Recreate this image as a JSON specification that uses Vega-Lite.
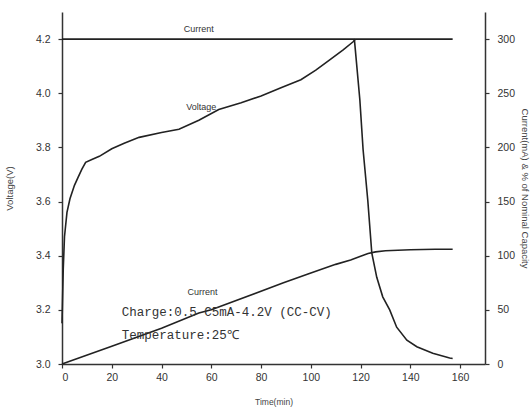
{
  "$schema": "https://vega.github.io/schema/vega-lite/v6.json",
  "autosize": "none",
  "width": 423,
  "height": 352,
  "padding": {"left": 62, "top": 12, "right": 45, "bottom": 44},
  "background": "white",
  "config": {
    "view": {"stroke": null},
    "axis": {"grid": false, "domainColor": "#333", "domainWidth": 1.5, "tickColor": "#333", "tickWidth": 1.2, "tickSize": 4, "labelFont": "Liberation Sans", "labelFontSize": 10.5, "labelColor": "#333", "titleFont": "Liberation Sans", "titleFontSize": 9.5, "titleFontWeight": "normal", "titleColor": "#444"}
  },
  "datasets": {
    "voltage": [
      {"t": 0, "v": 3.15}, {"t": 0.5, "v": 3.35}, {"t": 1, "v": 3.47}, {"t": 2, "v": 3.56}, {"t": 3.2, "v": 3.61},
      {"t": 5, "v": 3.66}, {"t": 6.5, "v": 3.69}, {"t": 8, "v": 3.72}, {"t": 9.5, "v": 3.745}, {"t": 12, "v": 3.755},
      {"t": 15, "v": 3.767}, {"t": 20, "v": 3.795}, {"t": 25, "v": 3.815}, {"t": 31, "v": 3.837}, {"t": 40, "v": 3.855},
      {"t": 47, "v": 3.867}, {"t": 55, "v": 3.9}, {"t": 63, "v": 3.94}, {"t": 72, "v": 3.965}, {"t": 80, "v": 3.99},
      {"t": 88, "v": 4.02}, {"t": 96, "v": 4.05}, {"t": 102, "v": 4.085}, {"t": 108, "v": 4.126}, {"t": 113, "v": 4.16},
      {"t": 117, "v": 4.19}, {"t": 118, "v": 4.2}, {"t": 130, "v": 4.2}, {"t": 157, "v": 4.2}
    ],
    "current": [
      {"s": "current", "t": 0, "c": 300}, {"s": "current", "t": 117.5, "c": 300}, {"s": "current", "t": 119.7, "c": 244},
      {"s": "current", "t": 121, "c": 198}, {"s": "current", "t": 122.9, "c": 151}, {"s": "current", "t": 124.5, "c": 102.5},
      {"s": "current", "t": 126.5, "c": 80}, {"s": "current", "t": 128.9, "c": 62}, {"s": "current", "t": 131.7, "c": 50},
      {"s": "current", "t": 134.5, "c": 34}, {"s": "current", "t": 138.6, "c": 22}, {"s": "current", "t": 142.6, "c": 16},
      {"s": "current", "t": 149, "c": 10}, {"s": "current", "t": 155.8, "c": 5.5}, {"s": "current", "t": 157, "c": 5},
      {"s": "capacity", "t": 0, "c": 0}, {"s": "capacity", "t": 20, "c": 16.5}, {"s": "capacity", "t": 40, "c": 33},
      {"s": "capacity", "t": 55, "c": 47}, {"s": "capacity", "t": 60, "c": 50}, {"s": "capacity", "t": 89, "c": 75},
      {"s": "capacity", "t": 100, "c": 84}, {"s": "capacity", "t": 110, "c": 92}, {"s": "capacity", "t": 116, "c": 96},
      {"s": "capacity", "t": 120, "c": 99.5}, {"s": "capacity", "t": 123, "c": 102}, {"s": "capacity", "t": 126, "c": 103.5},
      {"s": "capacity", "t": 130, "c": 104.5}, {"s": "capacity", "t": 140, "c": 105.5}, {"s": "capacity", "t": 150, "c": 106},
      {"s": "capacity", "t": 157, "c": 106}
    ],
    "vlabels": [
      {"t": 56, "v": 3.95, "label": "Voltage"}
    ],
    "clabels": [
      {"t": 55, "c": 309, "label": "Current"},
      {"t": 56.5, "c": 66.5, "label": "Current"}
    ],
    "notes": [
      {"t": 24, "c": 48, "label": "Charge:0.5 C5mA-4.2V (CC-CV)"},
      {"t": 24, "c": 27, "label": "Temperature:25℃"}
    ]
  },
  "layer": [
    {
      "layer": [
        {
          "data": {"name": "voltage"},
          "mark": {"type": "line", "color": "#222", "strokeWidth": 1.6},
          "encoding": {
            "x": {"field": "t", "type": "quantitative", "scale": {"domain": [0, 170], "nice": false, "zero": false},
              "axis": {"title": "Time(min)", "values": [0,10,20,30,40,50,60,70,80,90,100,110,120,130,140,150,160], "labelExpr": "datum.value % 20 === 0 ? datum.label : ''", "labelPadding": 4, "titleY": 33, "titleFontSize": 8.5}},
            "y": {"field": "v", "type": "quantitative", "scale": {"domain": [3.0, 4.3], "nice": false, "zero": false},
              "axis": {"title": "Voltage(V)", "orient": "left", "values": [3.0,3.1,3.2,3.3,3.4,3.5,3.6,3.7,3.8,3.9,4.0,4.1,4.2], "labelExpr": "abs(round(datum.value*10) % 2) === 0 ? format(datum.value, '.1f') : ''", "labelPadding": 8, "titleX": -48}}
          }
        },
        {
          "data": {"name": "vlabels"},
          "mark": {"type": "text", "font": "Liberation Sans", "fontSize": 9, "color": "#333"},
          "encoding": {
            "x": {"field": "t", "type": "quantitative"},
            "y": {"field": "v", "type": "quantitative"},
            "text": {"field": "label"}
          }
        }
      ]
    },
    {
      "layer": [
        {
          "data": {"name": "current"},
          "mark": {"type": "line", "color": "#222", "strokeWidth": 1.6},
          "encoding": {
            "x": {"field": "t", "type": "quantitative"},
            "y": {"field": "c", "type": "quantitative", "scale": {"domain": [0, 325], "nice": false, "zero": false},
              "axis": {"title": "Current(mA) & % of Nominal Capacity", "orient": "right", "values": [0,25,50,75,100,125,150,175,200,225,250,275,300], "labelExpr": "datum.value % 50 === 0 ? datum.label : ''", "labelPadding": 8, "titleX": 34}},
            "detail": {"field": "s"}
          }
        },
        {
          "data": {"name": "clabels"},
          "mark": {"type": "text", "font": "Liberation Sans", "fontSize": 9, "color": "#333"},
          "encoding": {
            "x": {"field": "t", "type": "quantitative"},
            "y": {"field": "c", "type": "quantitative"},
            "text": {"field": "label"}
          }
        },
        {
          "data": {"name": "notes"},
          "mark": {"type": "text", "font": "Liberation Mono", "fontSize": 12.5, "color": "#333", "align": "left"},
          "encoding": {
            "x": {"field": "t", "type": "quantitative"},
            "y": {"field": "c", "type": "quantitative"},
            "text": {"field": "label"}
          }
        }
      ]
    }
  ],
  "resolve": {"scale": {"y": "independent"}}
}
